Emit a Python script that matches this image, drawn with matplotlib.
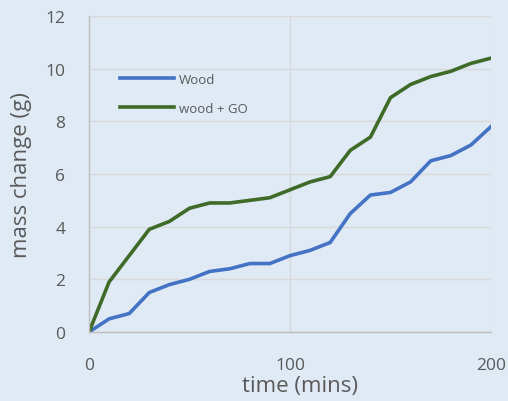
import matplotlib.pyplot as plt

# sampled every 10 minutes
time_mins = [0, 10, 20, 30, 40, 50, 60, 70, 80, 90, 100,
             110, 120, 130, 140, 150, 160, 170, 180, 190, 200]
wood = [0, 0.5, 0.7, 1.5, 1.8, 2.0, 2.3, 2.4, 2.6, 2.6, 2.9,
        3.1, 3.4, 4.5, 5.2, 5.3, 5.7, 6.5, 6.7, 7.1, 7.8]
wood_go = [0, 1.9, 2.9, 3.9, 4.2, 4.7, 4.9, 4.9, 5.0, 5.1, 5.4,
           5.7, 5.9, 6.9, 7.4, 8.9, 9.4, 9.7, 9.9, 10.2, 10.4]

BG = "#dfeaf5"
GRID = "#d9d9d9"
TEXT = "#595959"

plt.rcParams["font.family"] = ["Open Sans", "DejaVu Sans"]

fig = plt.figure(figsize=(5.08, 4.02), dpi=100, facecolor=BG)
ax = fig.add_axes([89 / 508, 1 - 333 / 402, (491 - 89) / 508, (333 - 17) / 402])
ax.set_facecolor(BG)

ax.plot(time_mins, wood, color="#4472c4", lw=2.6, label="Wood", solid_joinstyle="round")
ax.plot(time_mins, wood_go, color="#3f6a28", lw=2.6, label="wood + GO", solid_joinstyle="round")

ax.set_xlim(0, 200)
ax.set_ylim(0, 12)
ax.set_xticks([0, 100, 200])
ax.set_yticks(range(0, 13, 2))
ax.grid(True, color=GRID, lw=1.0)
ax.set_axisbelow(True)
for side in ("top", "right"):
    ax.spines[side].set_visible(False)
for side in ("left", "bottom"):
    ax.spines[side].set_color("#bfbfbf")
    ax.spines[side].set_linewidth(1.0)
ax.tick_params(length=0, colors=TEXT, labelsize=12.5)
ax.tick_params(axis="x", pad=18)
ax.tick_params(axis="y", pad=17)

ax.set_xlabel("time (mins)", color=TEXT, fontsize=16, va="center")
ax.xaxis.set_label_coords(0.525, -0.168)
ax.set_ylabel("mass change (g)", color=TEXT, fontsize=16, va="center")
ax.yaxis.set_label_coords(-0.167, 0.50)

ax.legend(loc="center left", bbox_to_anchor=(120 / 508, 1 - 95 / 402),
          bbox_transform=fig.transFigure, frameon=False, borderpad=0,
          borderaxespad=0, fontsize=9.5, labelcolor=TEXT, handlelength=4.1,
          handletextpad=0.35, labelspacing=1.2)

fig.savefig("out.png", dpi=100, facecolor=BG)
